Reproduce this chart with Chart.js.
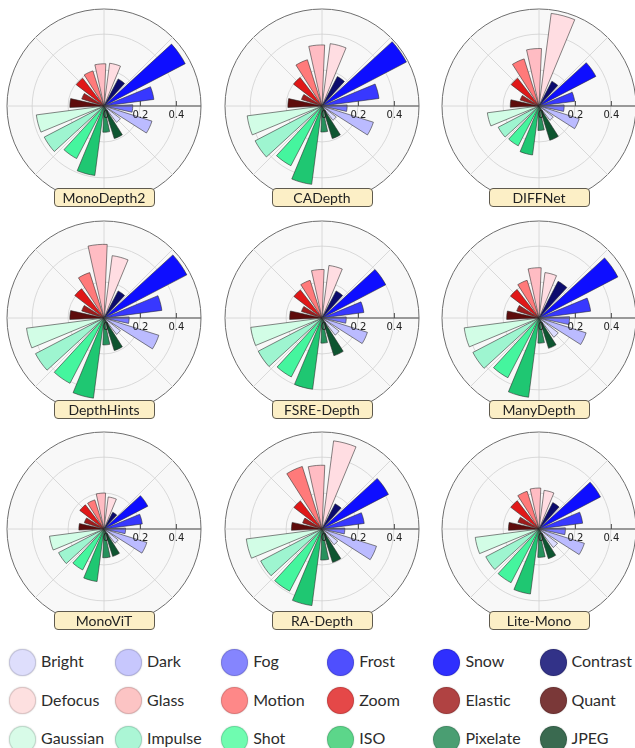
<!DOCTYPE html>
<html>
<head>
<meta charset="utf-8">
<script src="https://cdn.jsdelivr.net/npm/chart.js@4.4.1/dist/chart.umd.min.js"></script>
<style>
  html, body { margin: 0; padding: 0; background: #fff; }
  body { width: 635px; height: 748px; overflow: hidden; position: relative; font-family: Lato, "Open Sans", sans-serif; }
  .cell { position: absolute; width: 200px; height: 200px; }
  .tag { position: absolute; width: 101px; height: 19px; box-sizing: border-box; background: #fcefc6;
         border: 1px solid #5f5a4e; border-radius: 4px; font-size: 14px; line-height: 17px;
         text-align: center; color: #222; z-index: 2; }
  .dot { position: absolute; width: 27px; height: 27px; box-sizing: border-box; border-radius: 50%;
         border: 1px solid rgba(0,0,0,0.12); box-shadow: 0 0 1.5px rgba(0,0,0,0.25); }
  .name { position: absolute; font-size: 16px; line-height: 20px; color: #2c2c2c; white-space: nowrap; }
</style>
</head>
<body>
<script>
// Corruption types, in category order
const CORRUPTIONS = ['Bright', 'Dark', 'Fog', 'Frost', 'Snow', 'Contrast',
                     'Defocus', 'Glass', 'Motion', 'Zoom', 'Elastic', 'Quant',
                     'Gaussian', 'Impulse', 'Shot', 'ISO', 'Pixelate', 'JPEG'];
const BAR_COLORS = ['#dcdcff', '#bbbbff', '#7878ff', '#3838ff', '#0e0eff', '#0c0c6e',
                    '#ffdde2', '#ffbcc3', '#ff7a7a', '#e01818', '#a01c1c', '#5e0c0c',
                    '#d2fde6', '#9ef5d0', '#45f59e', '#1fc772', '#26915c', '#0e5530'];
const KEY_COLORS = ['#dedefc', '#c7c7fd', '#8585fe', '#4f4ffe', '#2f2ffe', '#323288',
                    '#fde0e0', '#fcc4c4', '#fe8888', '#e54848', '#b04242', '#7a3838',
                    '#d8fbe8', '#abf6d5', '#6ffcb0', '#5cd68a', '#4a9e72', '#3a6a50'];

const MODELS = ['MonoDepth2', 'CADepth', 'DIFFNet', 'DepthHints', 'FSRE-Depth', 'ManyDepth',
                'MonoViT', 'RA-Depth', 'Lite-Mono'];

// Per-model scores, one value per corruption (same order as CORRUPTIONS)
const monoDepth2 = [0.115, 0.28, 0.16, 0.28, 0.51, 0.17, 0.24, 0.235, 0.205, 0.195, 0.13, 0.19, 0.38, 0.375, 0.33, 0.39, 0.146, 0.19];
const caDepth    = [0.10, 0.30, 0.14, 0.32, 0.53, 0.185, 0.35, 0.34, 0.27, 0.20, 0.12, 0.19, 0.42, 0.42, 0.375, 0.44, 0.145, 0.19];
const diffNet    = [0.10, 0.235, 0.14, 0.20, 0.357, 0.155, 0.52, 0.32, 0.275, 0.195, 0.11, 0.16, 0.29, 0.256, 0.25, 0.275, 0.136, 0.20];
const depthHints = [0.115, 0.32, 0.14, 0.325, 0.52, 0.17, 0.35, 0.41, 0.265, 0.205, 0.13, 0.19, 0.435, 0.43, 0.41, 0.45, 0.15, 0.19];
const fsreDepth  = [0.12, 0.265, 0.135, 0.235, 0.40, 0.17, 0.295, 0.27, 0.22, 0.197, 0.12, 0.18, 0.40, 0.40, 0.37, 0.40, 0.14, 0.22];
const manyDepth  = [0.135, 0.275, 0.17, 0.29, 0.495, 0.23, 0.255, 0.28, 0.22, 0.20, 0.13, 0.18, 0.42, 0.415, 0.375, 0.445, 0.14, 0.177];
const monoViT    = [0.10, 0.25, 0.12, 0.215, 0.275, 0.105, 0.18, 0.20, 0.17, 0.17, 0.115, 0.14, 0.306, 0.285, 0.257, 0.295, 0.16, 0.16];
const raDepth    = [0.11, 0.318, 0.127, 0.237, 0.417, 0.158, 0.495, 0.355, 0.365, 0.197, 0.113, 0.17, 0.425, 0.385, 0.39, 0.43, 0.173, 0.195];
const liteMono   = [0.13, 0.265, 0.147, 0.245, 0.386, 0.166, 0.217, 0.228, 0.22, 0.198, 0.123, 0.17, 0.358, 0.334, 0.337, 0.365, 0.158, 0.173];
const SCORES = [monoDepth2, caDepth, diffNet, depthHints, fsreDepth, manyDepth, monoViT, raDepth, liteMono];

// Radial axis
const R_MAX = 0.54;
const R_TICKS = [0, 0.2, 0.4];
// Angular grid spokes every 45 degrees
const SPOKES = ['45', '90', '135', '180', '225', '270', '315', '360'];

// Wedge geometry (degrees)
const BAR_SPAN = 15;
const GAP_SPAN = 5;

// Grid layout
const COL_X = [104, 322, 539];
const ROW_Y = [106, 318, 529];

// Builds the arc list clockwise from 45deg: a half gap, then bar/gap pairs, closing with a half gap.
function arcSeries(values) {
  const n = CORRUPTIONS.length;
  const data = [0], colors = ['rgba(0,0,0,0)'], widths = [0], angles = [GAP_SPAN / 2];
  for (let j = 0; j < n; j++) {
    const k = (4 - j + n) % n;           // Snow first, then descending order around the dial
    data.push(values[k]); colors.push(BAR_COLORS[k]); widths.push(0.7); angles.push(BAR_SPAN);
    data.push(0); colors.push('rgba(0,0,0,0)'); widths.push(0);
    angles.push(j === n - 1 ? GAP_SPAN / 2 : GAP_SPAN);
  }
  return { data, colors, widths, angles };
}

// Radius axis along the east direction, drawn over the wedges
const eastAxis = {
  id: 'eastAxis',
  afterDatasetsDraw(chart) {
    const s = chart.scales.r, ctx = chart.ctx;
    const x0 = s.xCenter, y0 = s.yCenter;
    ctx.save();
    ctx.strokeStyle = '#4a4a4a';
    ctx.lineWidth = 1.2;
    ctx.beginPath();
    ctx.moveTo(x0, y0);
    ctx.lineTo(x0 + s.getDistanceFromCenterForValue(R_MAX), y0);
    ctx.stroke();
    ctx.lineWidth = 1;
    ctx.font = '10px "DejaVu Sans"';
    ctx.fillStyle = '#222';
    ctx.textAlign = 'center';
    ctx.textBaseline = 'top';
    R_TICKS.forEach(v => {
      const x = x0 + s.getDistanceFromCenterForValue(v);
      if (v > 0) {
        ctx.beginPath();
        ctx.moveTo(x + 0.5, y0);
        ctx.lineTo(x + 0.5, y0 - 5);
        ctx.stroke();
      }
      ctx.fillText(String(v), x + (v === 0 ? 2 : 0.5), y0 + 4);
    });
    ctx.restore();
  }
};

MODELS.forEach((model, m) => {
  const cx = COL_X[m % 3], cy = ROW_Y[Math.floor(m / 3)];
  const canvas = document.createElement('canvas');
  canvas.className = 'cell';
  canvas.width = 200; canvas.height = 200;
  canvas.style.left = (cx - 100) + 'px';
  canvas.style.top = (cy - 100) + 'px';
  document.body.appendChild(canvas);

  const tag = document.createElement('div');
  tag.className = 'tag';
  tag.textContent = model;
  tag.style.left = (cx - 50.5) + 'px';
  tag.style.top = (cy + 82) + 'px';
  document.body.appendChild(tag);

  const arcs = arcSeries(SCORES[m]);
  new Chart(canvas, {
    type: 'polarArea',
    data: {
      labels: SPOKES,
      datasets: [{
        data: arcs.data,
        backgroundColor: arcs.colors,
        borderColor: 'rgba(40,40,40,0.8)',
        borderWidth: arcs.widths,
        angle: ctx => arcs.angles[ctx.dataIndex]
      }]
    },
    options: {
      responsive: false,
      animation: false,
      devicePixelRatio: 1,
      layout: { padding: 3 },
      plugins: { legend: { display: false }, tooltip: { enabled: false } },
      scales: {
        r: {
          min: 0,
          max: R_MAX,
          startAngle: 45,
          backgroundColor: '#f8f8f8',
          afterBuildTicks: s => { s.ticks = [...R_TICKS, R_MAX].map(v => ({ value: v })); },
          ticks: { display: false },
          pointLabels: { display: false },
          grid: {
            circular: true,
            color: c => c.index === 3 ? '#6e6e6e' : '#d0d0d0',
            lineWidth: c => c.index === 3 ? 1 : 0.8
          },
          angleLines: { display: true, color: '#d0d0d0', lineWidth: 0.8 }
        }
      }
    },
    plugins: [eastAxis]
  });
});

// Shared legend, six per row
const KEY_X0 = 22.5, KEY_DX = 106.1;
const KEY_ROWS = [662, 700.5, 739];
CORRUPTIONS.forEach((name, i) => {
  const cx = KEY_X0 + KEY_DX * (i % 6), cy = KEY_ROWS[Math.floor(i / 6)];
  const dot = document.createElement('div');
  dot.className = 'dot';
  dot.style.left = (cx - 13.5) + 'px';
  dot.style.top = (cy - 13.5) + 'px';
  dot.style.background = KEY_COLORS[i];
  document.body.appendChild(dot);
  const label = document.createElement('div');
  label.className = 'name';
  label.textContent = name;
  label.style.left = (cx + 18.5) + 'px';
  label.style.top = (cy - 11) + 'px';
  document.body.appendChild(label);
});
</script>
</body>
</html>
